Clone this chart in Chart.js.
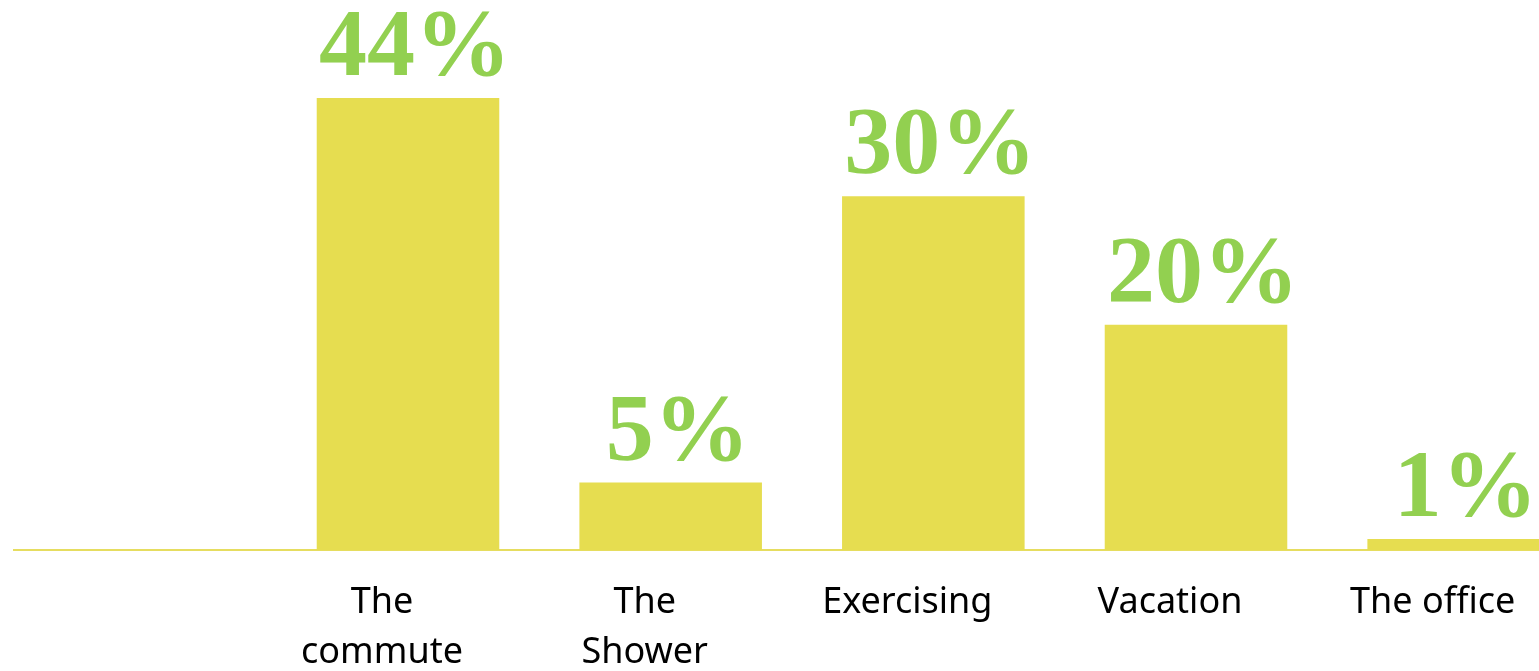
<!DOCTYPE html>
<html>
<head>
<meta charset="utf-8">
<script src="https://cdn.jsdelivr.net/npm/chart.js@4.4.1/dist/chart.umd.min.js"></script>
<style>
  html, body { margin: 0; padding: 0; background: #fff; overflow: hidden; }
  #wrap { width: 1592px; height: 704px; }
</style>
</head>
<body>
<div id="wrap"><canvas id="chart" width="1592" height="704"></canvas></div>
<script>
// first category is left empty, the reference leaves that space blank
const categories = ['', ['The', 'commute'], ['The', 'Shower'], 'Exercising', 'Vacation', 'The office'];
// bar heights as drawn in the picture (the printed labels don't scale exactly)
const barValues = [null, 40.1, 6.0, 31.4, 20.0, 1.0];
const valueLabels = ['', '44%', '5%', '30%', '20%', '1%'];

const barColor = '#E6DD50';
const labelColor = '#92D050';

// draws the big percentage over each bar
const topLabels = {
    id: 'topLabels',
    afterDatasetsDraw(chart) {
        const ctx = chart.ctx;
        const meta = chart.getDatasetMeta(0);
        ctx.save();
        ctx.font = 'bold 96px "Liberation Serif", serif';
        ctx.fillStyle = labelColor;
        ctx.textAlign = 'center';
        ctx.textBaseline = 'alphabetic';
        meta.data.forEach((bar, i) => {
            if (!valueLabels[i]) return;
            ctx.fillText(valueLabels[i], bar.x + 7, bar.y - 23);
        });
        ctx.restore();
    }
};

new Chart(document.getElementById('chart'), {
    type: 'bar',
    data: {
        labels: categories,
        datasets: [{
            data: barValues,
            backgroundColor: barColor,
            borderWidth: 0,
            barPercentage: 0.695,
            categoryPercentage: 1.0
        }]
    },
    options: {
        responsive: false,
        animation: false,
        layout: { padding: { top: 9, left: 14, right: 2, bottom: 7 } },
        plugins: {
            legend: { display: false },
            tooltip: { enabled: false }
        },
        scales: {
            x: {
                grid: { display: false },
                border: { display: true, color: '#E6DD60', width: 2 },
                ticks: {
                    color: '#000',
                    padding: 19,
                    labelOffset: -26,
                    maxRotation: 0,
                    autoSkip: false,
                    font: { family: '"Noto Sans", sans-serif', size: 36, lineHeight: 1.4 }
                }
            },
            y: {
                display: false,
                min: 0,
                max: 48
            }
        }
    },
    plugins: [topLabels]
});
</script>
</body>
</html>
